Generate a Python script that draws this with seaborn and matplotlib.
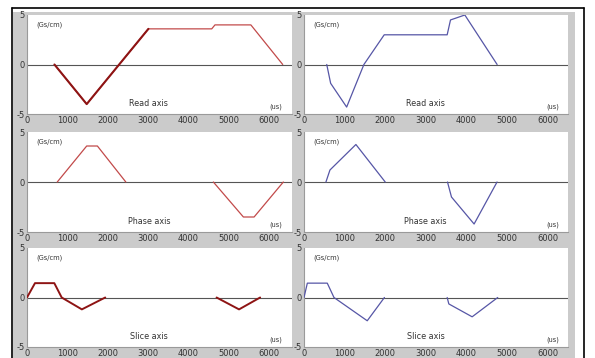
import matplotlib
matplotlib.use("Agg")
import matplotlib.pyplot as plt
from matplotlib.patches import Rectangle
from matplotlib.lines import Line2D
import pandas as pd
import seaborn as sns

# gradient waveforms (x in us, y in Gs/cm)
read_left_x = [680, 1480, 2285, 3010, 4580, 4660, 5550, 6340]
read_left_y = [0, -4.0, 0, 3.6, 3.6, 4.0, 4.0, 0]
read_left_seg = [0, 0, 0, 0, 0, 0, 0, 0]

read_right_x = [560, 656, 1050, 1475, 1975, 3525, 3607, 3960, 4755]
read_right_y = [0, -1.9, -4.3, 0, 3.0, 3.0, 4.5, 5.0, 0]
read_right_seg = [0, 0, 0, 0, 0, 0, 0, 0, 0]

phase_left_x = [750, 1480, 1745, 2450, 4620, 5365, 5630, 6355]
phase_left_y = [0, 3.6, 3.6, 0, 0, -3.5, -3.5, 0]
phase_left_seg = [0, 0, 0, 0, 1, 1, 1, 1]

phase_right_x = [540, 639, 1278, 2000, 3533, 3631, 4188, 4753]
phase_right_y = [0, 1.2, 3.75, 0, 0, -1.5, -4.2, 0]
phase_right_seg = [0, 0, 0, 0, 1, 1, 1, 1]

slice_left_x = [0, 198, 677, 860, 1360, 1940, 4700, 5257, 5780]
slice_left_y = [0, 1.45, 1.45, 0, -1.2, 0, 0, -1.2, 0]
slice_left_seg = [0, 0, 0, 0, 0, 0, 1, 1, 1]

slice_right_x = [0, 82, 573, 738, 1557, 1980, 3525, 3566, 4140, 4770]
slice_right_y = [0, 1.45, 1.45, 0, -2.35, 0, 0, -0.65, -1.95, 0]
slice_right_seg = [0, 0, 0, 0, 0, 0, 1, 1, 1, 1]

titles = ["Read axis", "Phase axis", "Slice axis"]
x_ticks = [0, 1000, 2000, 3000, 4000, 5000, 6000]
y_ticks = [-5, 0, 5]

sns.set_style("white")
plt.rcParams['font.family'] = ['DejaVu Sans']
plt.rcParams['axes.unicode_minus'] = False

W, H = 595, 358
fig = plt.figure(figsize=(W / 100, H / 100), dpi=100)
fig.patch.set_facecolor("white")

# grey window background and black frame
fig.add_artist(Rectangle((13 / W, 0), (575 - 13) / W, 1 - 12 / H,
                         transform=fig.transFigure, facecolor="#cbcbcb",
                         edgecolor="none", zorder=0))
frame = dict(transform=fig.transFigure, color="black", lw=1.2)
fig.add_artist(Line2D([12 / W, 12 / W], [0, 1 - 8 / H], **frame))
fig.add_artist(Line2D([12 / W, 584 / W], [1 - 8 / H, 1 - 8 / H], **frame))
fig.add_artist(Line2D([584 / W, 584 / W], [0, 1 - 8 / H], **frame))

panels = [
    [(read_left_x, read_left_y, read_left_seg), (read_right_x, read_right_y, read_right_seg)],
    [(phase_left_x, phase_left_y, phase_left_seg), (phase_right_x, phase_right_y, phase_right_seg)],
    [(slice_left_x, slice_left_y, slice_left_seg), (slice_right_x, slice_right_y, slice_right_seg)],
]

col_left = [27 / W, 304 / W]
col_width = [(292 - 27) / W, (568 - 304) / W]
col_xmax = [6570, 6500]
row_px = [(15, 114), (132, 232), (248, 347)]

thin_red = "#c24a4a"
dark_red = "#8e1414"
blue = "#5656a6"

for r in range(3):
    top, bot = row_px[r]
    for c in range(2):
        ax = fig.add_axes([col_left[c], 1 - bot / H, col_width[c], (bot - top) / H])
        ax.set_facecolor("white")
        xs, ys, seg = panels[r][c]
        df = pd.DataFrame({"x": xs, "y": ys, "seg": seg})

        ax.axhline(0, color="#555555", lw=0.8, zorder=1)

        if c == 0:
            if r == 2:
                color, lw = dark_red, 1.4
            else:
                color, lw = thin_red, 0.9
        else:
            color, lw = blue, 0.9

        sns.lineplot(data=df, x="x", y="y", units="seg", estimator=None,
                     sort=False, color=color, lw=lw, ax=ax, zorder=3)
        if r == 0 and c == 0:
            # the first ramps are drawn heavier
            sns.lineplot(data=df.iloc[:4], x="x", y="y", estimator=None,
                         sort=False, color=dark_red, lw=1.5, ax=ax, zorder=4)

        ax.set_xlim(0, col_xmax[c])
        ax.set_ylim(-5, 5)
        ax.set_xticks(x_ticks)
        ax.set_yticks(y_ticks)
        ax.set_xlabel("")
        ax.set_ylabel("")
        ax.tick_params(direction="in", length=3, width=0.6, colors="#888888",
                       labelcolor="#333333", labelsize=6, pad=1.5)
        for side in ["top", "right"]:
            ax.spines[side].set_visible(False)
        for side in ["left", "bottom"]:
            ax.spines[side].set_color("#9a9a9a")
            ax.spines[side].set_linewidth(0.8)

        ax.text(0.035, 0.9, "(Gs/cm)", transform=ax.transAxes, fontsize=4.8,
                color="#333333", va="center", ha="left")
        ax.text(0.965, 0.07, "(us)", transform=ax.transAxes, fontsize=4.8,
                color="#333333", va="center", ha="right")
        ax.text(0.46, 0.11, titles[r], transform=ax.transAxes, fontsize=5.8,
                color="#333333", va="center", ha="center")

fig.savefig("out.png", dpi=100, facecolor=fig.get_facecolor())
